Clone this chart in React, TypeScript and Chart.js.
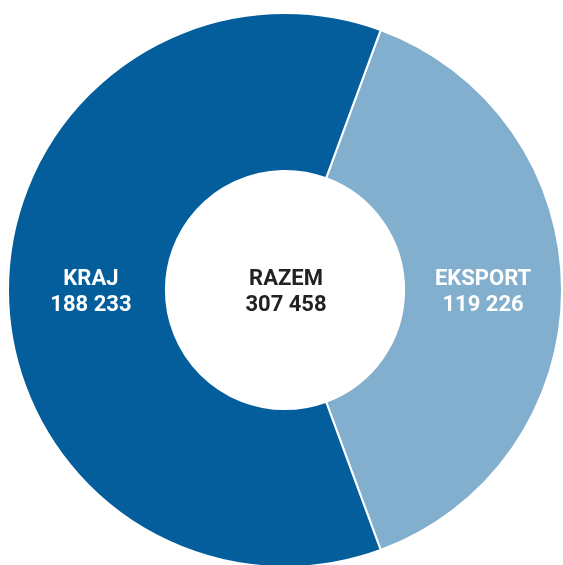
import React, { useEffect, useRef } from "react";
import { Chart, registerables } from "chart.js";

Chart.register(...registerables);

const categories = ["EKSPORT", "KRAJ"];
const values = [119226, 188233];
const valueLabels = ["119 226", "188 233"];
const totalTitle = "RAZEM";
const totalLabel = "307 458";
const colors = ["#82AFCE", "#035E9B"];

const labelPlugin = {
  id: "sliceLabels",
  afterDatasetsDraw(chart: any) {
    const { ctx } = chart;
    const meta = chart.getDatasetMeta(0);
    ctx.save();
    ctx.textAlign = "center";
    ctx.textBaseline = "middle";
    ctx.font = "bold 22px Roboto";
    meta.data.forEach((arc: any, i: number) => {
      const p = arc.getCenterPoint();
      const dx = i === 1 ? 4 : 0;
      ctx.fillStyle = "#ffffff";
      ctx.fillText(categories[i], p.x + dx, p.y - 11);
      ctx.fillText(valueLabels[i], p.x + dx, p.y + 15.5);
    });
    const a = meta.data[0];
    ctx.fillStyle = "#222222";
    ctx.fillText(totalTitle, a.x + 1, a.y - 11);
    ctx.fillText(totalLabel, a.x + 1, a.y + 15.5);
    ctx.restore();
  },
};

const total = values.reduce((s, v) => s + v, 0);
const startRotation = 90 - (values[0] / total) * 180;

export default function App() {
  const ref = useRef<HTMLCanvasElement>(null);
  useEffect(() => {
    if (!ref.current) return;
    const chart = new Chart(ref.current, {
      type: "doughnut",
      data: {
        labels: categories,
        datasets: [
          {
            data: values,
            backgroundColor: colors,
            borderColor: "#ffffff",
            borderWidth: 2,
            hoverOffset: 0,
          },
        ],
      },
      options: {
        animation: false,
        responsive: false,
        maintainAspectRatio: false,
        cutout: "43%",
        rotation: startRotation,
        layout: { padding: 0 },
        plugins: {
          legend: { display: false },
          tooltip: { enabled: false },
        },
      },
      plugins: [labelPlugin],
    });
    return () => chart.destroy();
  }, []);
  return (
    <div style={{ position: "fixed", inset: 0, overflow: "hidden", background: "#fff" }}>
      <canvas
        ref={ref}
        width={556}
        height={556}
        style={{ position: "absolute", left: 7, top: 12, width: 556, height: 556 }}
      />
    </div>
  );
}
